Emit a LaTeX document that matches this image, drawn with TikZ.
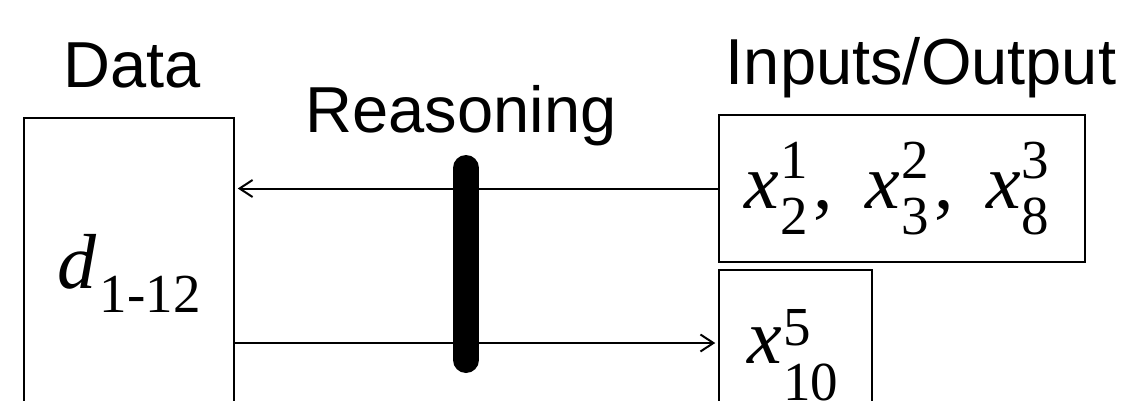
\documentclass[tikz,border=0pt]{standalone}
\usepackage{fontspec}
\setmainfont{Liberation Sans}
\newfontfamily\tms{Liberation Serif}
\usetikzlibrary{arrows.meta}

\newcommand{\scr}[1]{{\fontsize{55}{60}\selectfont #1}}
% x with sub #1 and sup #2, raised #3 and lowered #4
\newcommand{\xvar}[4]{\textit{x}\kern1pt%
  \makebox[0pt][l]{\raisebox{-#4}{\scr{#1}}}\raisebox{#3}{\scr{#2}}}

\begin{document}
\begin{tikzpicture}[x=1pt, y=-1pt,
  lbl/.style={anchor=base, inner sep=0pt, font=\fontsize{65}{78}\selectfont},
  box/.style={draw=black, line width=2.5pt, inner sep=0pt,
    font=\tms\fontsize{78}{90}\selectfont},
  arw/.style={-{Straight Barb[length=13pt, width=17pt]}, line width=2pt,
    shorten >=2.5pt},
  bar/.style={line width=26pt, line cap=round},
]
\clip (0,0) rectangle (1131,401);

\node[lbl] (datalbl) at (132,88) {Data};
\node[lbl] (reaslbl) at (461,132) {Reasoning};
\node[lbl] (iolbl) at (921,85) {Inputs/Output};

\node[box, minimum width=210pt, minimum height=310pt] (data) at (129,273)
  {\textit{d}\kern3pt\raisebox{-24pt}{\scr{1-12}}};

\node[box, minimum width=366pt, minimum height=147pt] (inp) at (902,188.5)
  {\xvar{2}{1}{30pt}{26pt}\kern6pt,\hspace{32pt}%
   \xvar{3}{2}{30pt}{26pt}\kern6pt,\hspace{32pt}%
   \xvar{8}{3}{30pt}{26pt}\kern10pt};

\node[box, minimum width=153pt, minimum height=170pt] (outp) at (795.5,355)
  {\makebox[96pt][l]{\xvar{10}{5}{18pt}{37pt}}};

\draw[arw] (inp.west) -- (data.east |- inp.west);
\draw[arw] (data.east |- 0,343) -- (outp.west |- 0,343);

\coordinate (bartop) at (466,168);
\coordinate (barbot) at (466,360);
\draw[bar] (bartop) -- (barbot);
\end{tikzpicture}
\end{document}
